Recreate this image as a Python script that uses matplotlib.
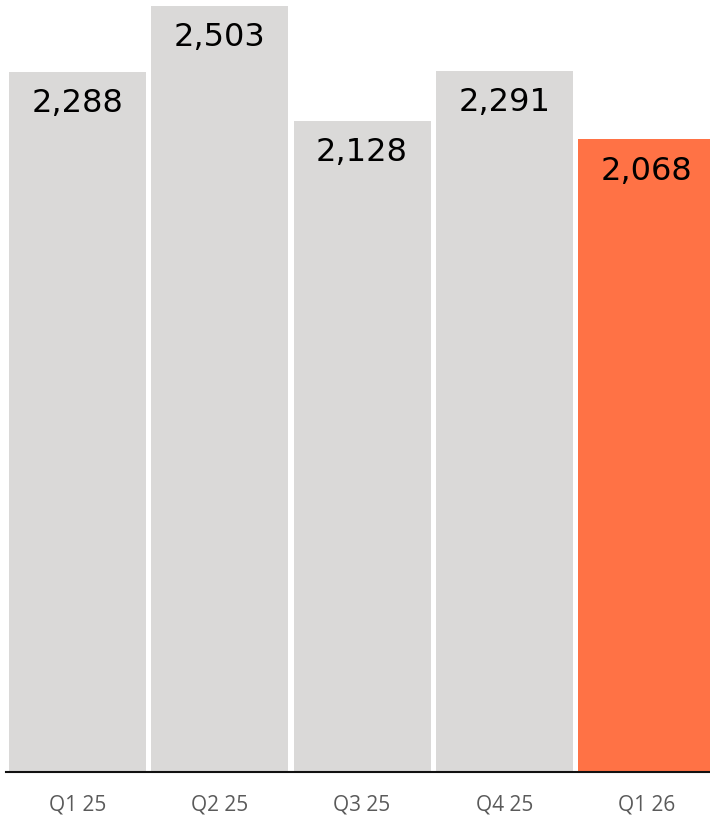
import matplotlib
matplotlib.use("Agg")
import matplotlib.pyplot as plt

categories = ["Q1 25", "Q2 25", "Q3 25", "Q4 25", "Q1 26"]
values = [2288, 2503, 2128, 2291, 2068]
labels = ["2,288", "2,503", "2,128", "2,291", "2,068"]
colors = ["#dad9d8", "#dad9d8", "#dad9d8", "#dad9d8", "#ff7245"]

W, H, DPI = 710, 817, 100
fig = plt.figure(figsize=(W / DPI, H / DPI), dpi=DPI)
ax = fig.add_axes([6 / W, 45 / H, 704 / W, 772 / H])

x = list(range(len(categories)))
ax.bar(x, values, width=0.963, color=colors, zorder=2)
ax.set_xlim(-0.503, 4.446)
ax.set_ylim(0, 2522.5)

for xi, v, lab in zip(x, values, labels):
    ax.annotate(lab, (xi, v), xytext=(0, -32 * 72 / DPI), textcoords="offset points",
                ha="center", va="center", fontsize=23, color="#000000",
                family="DejaVu Sans")

for s in ["top", "right", "left"]:
    ax.spines[s].set_visible(False)
ax.spines["bottom"].set_linewidth(1.5)
ax.spines["bottom"].set_color("#111111")
ax.spines["bottom"].set_zorder(3)
ax.set_yticks([])
ax.set_xticks(x)
ax.set_xticklabels(categories, family="Open Sans", fontsize=15, color="#5a5a5a")
ax.tick_params(axis="x", length=0, pad=16)

fig.savefig("out.png", dpi=DPI)
